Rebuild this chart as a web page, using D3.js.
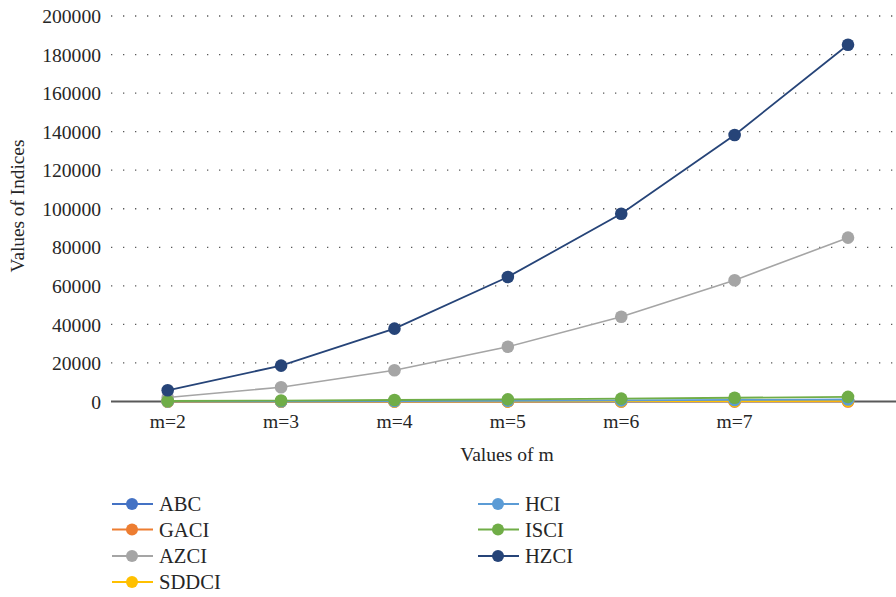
<!DOCTYPE html>
<html>
<head>
<meta charset="utf-8">
<script src="https://cdn.jsdelivr.net/npm/d3@7"></script>
<style>
  html, body { margin: 0; padding: 0; background: #fff; }
  svg { display: block; }
  text { font-family: "Liberation Serif", "DejaVu Serif", serif; fill: #262626; }
</style>
</head>
<body>
<svg id="chart" width="896" height="597"></svg>
<script>
// Categories along the x axis (the last slot carries no label)
const categories = ["m=2", "m=3", "m=4", "m=5", "m=6", "m=7", ""];

// Index values per m
const ABC   = [12, 30, 55, 90, 130, 180, 240];
const GACI  = [3, 5, 8, 12, 16, 21, 27];
const AZCI  = [2100, 7400, 16200, 28400, 44000, 62900, 85000];
const SDDCI = [20, 45, 80, 125, 180, 245, 320];
const HCI   = [60, 140, 250, 400, 580, 800, 1050];
const ISCI  = [250, 480, 780, 1100, 1500, 1950, 2400];
const HZCI  = [5800, 18600, 37800, 64600, 97400, 138300, 185100];

const yTicks = [0, 20000, 40000, 60000, 80000, 100000, 120000, 140000, 160000, 180000, 200000];

const series = [
  { name: "ABC",   values: ABC,   color: "#4472C4", w: 1.8 },
  { name: "GACI",  values: GACI,  color: "#ED7D31", w: 1.8 },
  { name: "AZCI",  values: AZCI,  color: "#A5A5A5", w: 1.6 },
  { name: "SDDCI", values: SDDCI, color: "#FFC000", w: 1.8 },
  { name: "HCI",   values: HCI,   color: "#5B9BD5", w: 1.8 },
  { name: "ISCI",  values: ISCI,  color: "#70AD47", w: 1.8 },
  { name: "HZCI",  values: HZCI,  color: "#264478", w: 1.8 }
];

const svg = d3.select("#chart");

const x = d3.scaleBand().domain(d3.range(categories.length)).range([111, 904.7]);
const cx = i => x(i) + x.bandwidth() / 2;
const y = d3.scaleLinear().domain([0, 200000]).range([401.5, 16]);

// Dotted horizontal gridlines
svg.append("g")
  .selectAll("line")
  .data(yTicks.filter(d => d > 0))
  .join("line")
  .attr("x1", 111).attr("x2", 896)
  .attr("y1", d => y(d)).attr("y2", d => y(d))
  .attr("stroke", "#595959")
  .attr("stroke-width", 1.3)
  .attr("stroke-dasharray", "1.3 10.7");

// Y axis labels
const yAxis = d3.axisLeft(y).tickValues(yTicks).tickSize(0).tickPadding(0).tickFormat(d3.format("d"));
svg.append("g")
  .attr("transform", "translate(101,0)")
  .call(yAxis)
  .call(g => g.select(".domain").remove())
  .selectAll("text")
  .attr("font-size", 19.6)
  .attr("font-family", "Liberation Serif, serif")
  .attr("fill", "#262626")
  .attr("dy", "0.34em");

// Zero baseline
svg.append("line")
  .attr("x1", 111).attr("x2", 896)
  .attr("y1", y(0)).attr("y2", y(0))
  .attr("stroke", "#595959").attr("stroke-width", 1.8);

// X axis category labels
svg.append("g")
  .selectAll("text")
  .data(categories)
  .join("text")
  .attr("x", (d, i) => cx(i))
  .attr("y", 428)
  .attr("text-anchor", "middle")
  .attr("font-size", 19.6)
  .text(d => d);

// Axis titles
svg.append("text")
  .attr("transform", "translate(24,206) rotate(-90)")
  .attr("text-anchor", "middle")
  .attr("font-size", 19.3)
  .text("Values of Indices");

svg.append("text")
  .attr("x", 507).attr("y", 461)
  .attr("text-anchor", "middle")
  .attr("font-size", 19.6)
  .text("Values of m");

// Lines and markers
const line = d3.line().x((d, i) => cx(i)).y(d => y(d));
const plot = svg.append("g");
series.forEach(s => {
  const g = plot.append("g");
  g.append("path")
    .datum(s.values)
    .attr("d", line)
    .attr("fill", "none")
    .attr("stroke", s.color)
    .attr("stroke-width", s.w);
  g.selectAll("circle")
    .data(s.values)
    .join("circle")
    .attr("cx", (d, i) => cx(i))
    .attr("cy", d => y(d))
    .attr("r", 6.3)
    .attr("fill", s.color);
});

// Legend: two columns
const legendCols = [
  { x: 112, names: ["ABC", "GACI", "AZCI", "SDDCI"] },
  { x: 478, names: ["HCI", "ISCI", "HZCI"] }
];
const rowY = [504, 529.5, 556, 582];
legendCols.forEach(col => {
  col.names.forEach((name, r) => {
    const s = series.find(t => t.name === name);
    const g = svg.append("g").attr("transform", `translate(${col.x},${rowY[r]})`);
    g.append("line").attr("x1", 0).attr("x2", 41).attr("y1", 0).attr("y2", 0)
      .attr("stroke", s.color).attr("stroke-width", 2);
    g.append("circle").attr("cx", 20).attr("cy", 0).attr("r", 6).attr("fill", s.color);
    g.append("text").attr("x", 47).attr("y", 0).attr("dy", "0.34em")
      .attr("font-size", 20.6).text(name);
  });
});
</script>
</body>
</html>
